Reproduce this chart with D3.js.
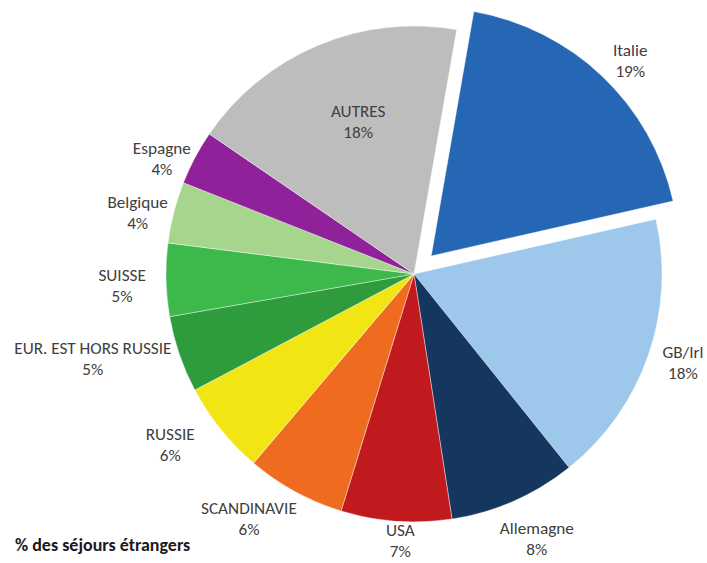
<!DOCTYPE html>
<html>
<head>
<meta charset="utf-8">
<script src="https://cdn.jsdelivr.net/npm/d3@7"></script>
<style>
  html, body { margin: 0; padding: 0; background: #fff; }
  svg { display: block; font-family: Carlito, Lato, "Open Sans", sans-serif; }
</style>
</head>
<body>
<svg id="chart" width="707" height="563"></svg>
<script>
// Share of foreign stays by origin (percent)
const categories = ["Italie", "GB/Irl", "Allemagne", "USA", "SCANDINAVIE", "RUSSIE",
                    "EUR. EST HORS RUSSIE", "SUISSE", "Belgique", "Espagne", "AUTRES"];
const shares = [18.7, 17.8, 8.3, 7.2, 6.45, 6.05, 5.0, 4.75, 4.0, 3.55, 18.2];
const sliceColors = ["#2566b5", "#9dc8ec", "#15365e", "#c01a1f", "#ef6b1f", "#f1e513",
                     "#2e9b3d", "#3cb94a", "#a6d68d", "#8f219a", "#bdbdbd"];
const explodedCategory = "Italie";
const chartTitle = "% des séjours étrangers";

// Label layout: angular nudge from the slice middle (degrees) and distance from the centre (in radii)
const labelNudge = [2.0, -1.0, -1.1, -1.2, 5.3, 3.8, 4.0, -1.0, -2.0, -3.4, 2.7];
const labelDistance = [1.124, 1.142, 1.178, 1.078, 1.19, 1.2, 1.34, 1.178, 1.141, 1.118, 0.653];

const width = 707, height = 563;
const cx = 414, cy = 274, radius = 248, explodeOffset = 25;
const startDeg = 9.9;
const lineGap = 21;
const labelSize = 17.2, titleSize = 18;

const data = categories.map((name, i) => ({ name, value: shares[i], color: sliceColors[i], i }));

const svg = d3.select("#chart");
const g = svg.append("g").attr("transform", `translate(${cx},${cy})`);

const toRad = d => d * Math.PI / 180;
const pie = d3.pie()
  .sort(null)
  .value(d => d.value)
  .startAngle(toRad(startDeg))
  .endAngle(toRad(startDeg) + 2 * Math.PI);

const arc = d3.arc().innerRadius(0).outerRadius(radius);
const arcs = pie(data);

const shift = d => {
  if (d.data.name !== explodedCategory) return [0, 0];
  const mid = (d.startAngle + d.endAngle) / 2;
  return [Math.sin(mid) * explodeOffset, -Math.cos(mid) * explodeOffset];
};

g.selectAll("path.slice")
  .data(arcs)
  .join("path")
  .attr("class", "slice")
  .attr("d", arc)
  .attr("fill", d => d.data.color)
  .attr("stroke", "#ffffff")
  .attr("stroke-width", 0.4)
  .attr("transform", d => `translate(${shift(d)[0]},${shift(d)[1]})`);

const pct = d3.format(".0f");
const labels = g.selectAll("g.label")
  .data(arcs)
  .join("g")
  .attr("class", "label")
  .attr("transform", d => {
    const mid = (d.startAngle + d.endAngle) / 2 + toRad(labelNudge[d.data.i]);
    const r = radius * labelDistance[d.data.i];
    const [sx, sy] = shift(d);
    return `translate(${sx + Math.sin(mid) * r},${sy - Math.cos(mid) * r})`;
  });

labels.append("text")
  .attr("text-anchor", "middle")
  .attr("dominant-baseline", "central")
  .attr("y", -lineGap / 2)
  .attr("fill", "#404040")
  .attr("font-size", labelSize)
  .text(d => d.data.name);

labels.append("text")
  .attr("text-anchor", "middle")
  .attr("dominant-baseline", "central")
  .attr("y", lineGap / 2)
  .attr("fill", "#404040")
  .attr("font-size", labelSize)
  .text(d => pct(Math.round(d.data.value)) + "%");

svg.append("text")
  .attr("x", 15)
  .attr("y", 545)
  .attr("dominant-baseline", "central")
  .attr("font-weight", "bold")
  .attr("font-size", titleSize)
  .attr("fill", "#1a1a1a")
  .text(chartTitle);
</script>
</body>
</html>
